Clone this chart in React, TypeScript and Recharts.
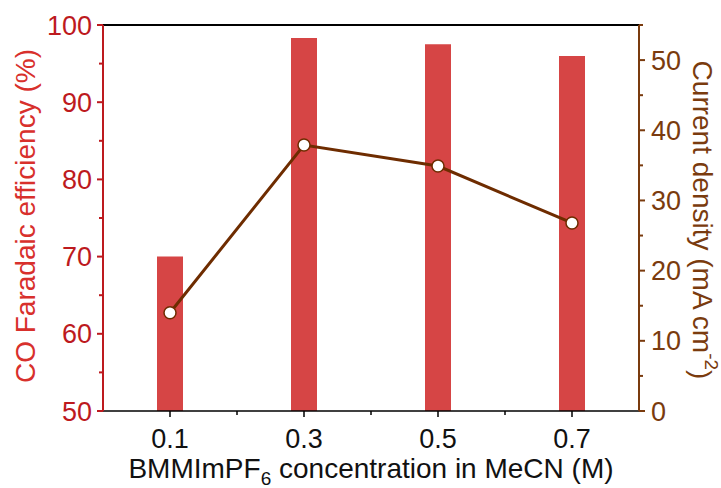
import React from "react";
import { ComposedChart, Bar, Line, XAxis, YAxis, ReferenceLine, Label } from "recharts";

// BMMImPF6 concentration (M)
const concentrations = [0.1, 0.3, 0.5, 0.7];
// CO Faradaic efficiency (%)
const faradaicEfficiency = [70.0, 98.3, 97.5, 96.0];
// current density (mA cm-2)
const currentDensity = [14.0, 37.9, 34.9, 26.8];

const xTicks = [0.1, 0.2, 0.3, 0.4, 0.5, 0.6, 0.7];
const xLabelled = [0.1, 0.3, 0.5, 0.7];
const leftTicks = [50, 55, 60, 65, 70, 75, 80, 85, 90, 95, 100];
const leftLabelled = [50, 60, 70, 80, 90, 100];
const rightTicks = [0, 5, 10, 15, 20, 25, 30, 35, 40, 45, 50, 55];
const rightLabelled = [0, 10, 20, 30, 40, 50];

const data = concentrations.map((c, i) => ({
  conc: c,
  fe: faradaicEfficiency[i],
  j: currentDensity[i],
}));

const FONT = "'Liberation Sans', Arial, sans-serif";
const TICK_FS = 27;
const TITLE_FS = 28;
const RED = "#bd1a1e";
const RED_TITLE = "#d8302c";
const BAR = "#d64545";
const BROWN = "#7a3b0e";
const LINE = "#6e2c00";

const XTick = (props: any) => {
  const { x, y, payload } = props;
  const major = xLabelled.includes(payload.value);
  return (
    <g>
      <line x1={x} x2={x} y1={y} y2={y + (major ? 6 : 4)} stroke="#000" strokeWidth={1.5} />
      {major && (
        <text x={x} y={y + 37} textAnchor="middle" fontSize={TICK_FS} fontFamily={FONT} fill="#111">
          {payload.value}
        </text>
      )}
    </g>
  );
};

const LeftTick = (props: any) => {
  const { x, y, payload } = props;
  const major = leftLabelled.includes(payload.value);
  return (
    <g>
      <line x1={x - (major ? 6 : 4)} x2={x} y1={y} y2={y} stroke={RED} strokeWidth={2} />
      {major && (
        <text x={x - 11} y={y + 9.5} textAnchor="end" fontSize={TICK_FS} fontFamily={FONT} fill={RED}>
          {payload.value}
        </text>
      )}
    </g>
  );
};

const RightTick = (props: any) => {
  const { x, y, payload } = props;
  const major = rightLabelled.includes(payload.value);
  return (
    <g>
      <line x1={x} x2={x + (major ? 6 : 4)} y1={y} y2={y} stroke={BROWN} strokeWidth={2} />
      {major && (
        <text x={x + 12} y={y + 9.5} textAnchor="start" fontSize={TICK_FS} fontFamily={FONT} fill={BROWN}>
          {payload.value}
        </text>
      )}
    </g>
  );
};

export default function App() {
  return (
    <div style={{ position: "absolute", left: 0, top: 0, background: "#fff" }}>
      <ComposedChart width={721} height={488} data={data} margin={{ top: 25, right: 0, bottom: 0, left: 0 }}>
        <XAxis
          dataKey="conc"
          type="number"
          domain={[0, 0.8]}
          allowDataOverflow
          ticks={xTicks}
          interval={0}
          height={77}
          tickSize={0}
          tickMargin={0}
          tickLine={false}
          tick={<XTick />}
          axisLine={{ stroke: "#000", strokeWidth: 1.5 }}
        >
          <Label
            content={() => (
              <text x={371} y={478} textAnchor="middle" fontSize={TITLE_FS} fontFamily={FONT} fill="#111">
                BMMImPF
                <tspan fontSize={19} dy={7}>6</tspan>
                <tspan dy={-7}> concentration in MeCN (M)</tspan>
              </text>
            )}
          />
        </XAxis>
        <YAxis
          yAxisId="left"
          orientation="left"
          domain={[50, 100]}
          allowDataOverflow
          ticks={leftTicks}
          interval={0}
          width={103}
          tickSize={0}
          tickMargin={0}
          tickLine={false}
          tick={<LeftTick />}
          axisLine={{ stroke: RED, strokeWidth: 2 }}
        >
          <Label
            content={() => (
              <text
                x={25}
                y={216}
                transform="rotate(-90 25 216)"
                textAnchor="middle"
                dominantBaseline="central"
                fontSize={TITLE_FS}
                fontFamily={FONT}
                fill={RED_TITLE}
              >
                CO Faradaic efficiency (%)
              </text>
            )}
          />
        </YAxis>
        <YAxis
          yAxisId="right"
          orientation="right"
          domain={[0, 55]}
          allowDataOverflow
          ticks={rightTicks}
          interval={0}
          width={82}
          tickSize={0}
          tickMargin={0}
          tickLine={false}
          tick={<RightTick />}
          axisLine={{ stroke: BROWN, strokeWidth: 2 }}
        >
          <Label
            content={() => (
              <text
                x={702}
                y={220}
                transform="rotate(90 702 220)"
                textAnchor="middle"
                dominantBaseline="central"
                fontSize={TITLE_FS}
                fontFamily={FONT}
                fill={BROWN}
              >
                Current density (mA cm
                <tspan fontSize={19} dy={-10}>-2</tspan>
                <tspan dy={10}>)</tspan>
              </text>
            )}
          />
        </YAxis>
        <ReferenceLine y={100} yAxisId="left" stroke="#000" strokeWidth={2} />
        <Bar yAxisId="left" dataKey="fe" fill={BAR} barSize={26} isAnimationActive={false} />
        <Line
          yAxisId="right"
          dataKey="j"
          stroke={LINE}
          strokeWidth={3}
          dot={{ r: 6, fill: "#fff", stroke: LINE, strokeWidth: 1.5 }}
          isAnimationActive={false}
        />
      </ComposedChart>
    </div>
  );
}
